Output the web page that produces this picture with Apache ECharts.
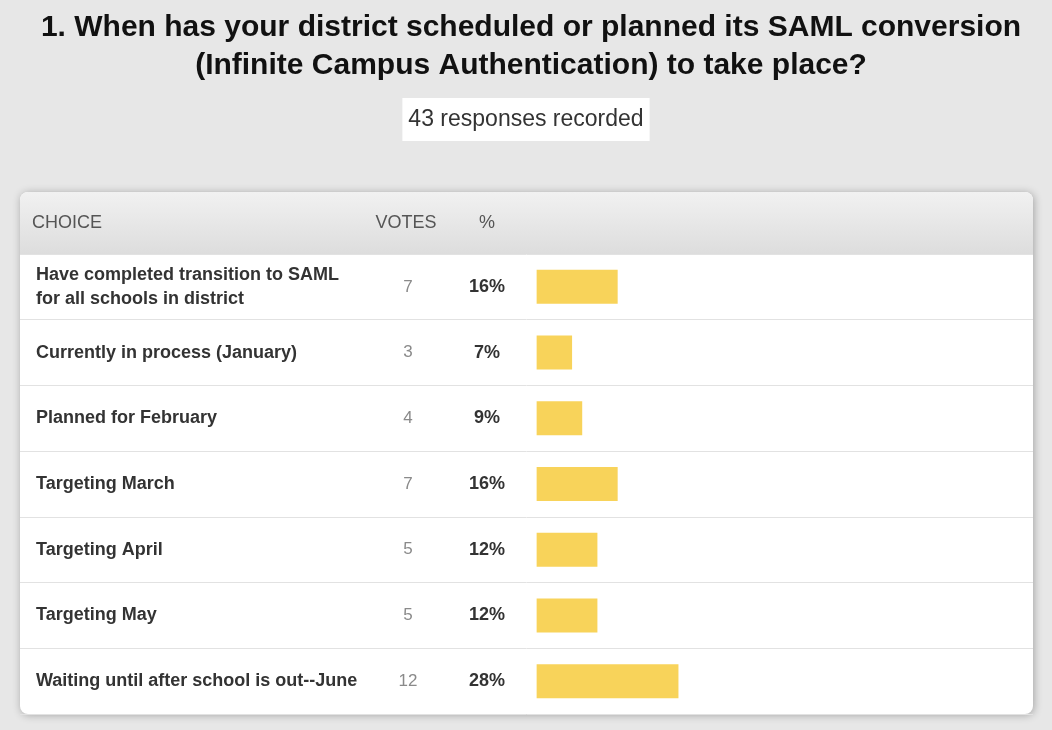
<!DOCTYPE html>
<html>
<head>
<meta charset="utf-8">
<script src="https://cdn.jsdelivr.net/npm/echarts@6/dist/echarts.min.js"></script>
<style>
  html, body { margin: 0; padding: 0; background: #e7e7e7; }
  #main { width: 1052px; height: 730px; }
</style>
</head>
<body>
<div id="main"></div>
<script>
// survey results
const choices = [
  'Have completed transition to SAML\nfor all schools in district',
  'Currently in process (January)',
  'Planned for February',
  'Targeting March',
  'Targeting April',
  'Targeting May',
  'Waiting until after school is out--June'
];
const votes = [7, 3, 4, 7, 5, 5, 12];
const percents = [16, 7, 9, 16, 12, 12, 28];
const totalResponses = 43;

const FONT = '"Liberation Sans", Arial, sans-serif';
const chart = echarts.init(document.getElementById('main'));

chart.setOption({
  backgroundColor: '#e7e7e7',
  animation: false,
  title: [
    {
      text: '1. When has your district scheduled or planned its SAML conversion\n(Infinite Campus Authentication) to take place?',
      left: 526,
      top: 4,
      textAlign: 'center',
      textStyle: { fontFamily: FONT, fontSize: 30, fontWeight: 'bold', color: '#111', lineHeight: 38, align: 'center' }
    },
    {
      text: totalResponses + ' responses recorded',
      left: 'center',
      top: 98,
      padding: [10, 6, 10, 6],
      backgroundColor: '#fff',
      textStyle: { fontFamily: FONT, fontSize: 23, fontWeight: 'normal', color: '#333', lineHeight: 23 }
    }
  ],
  graphic: [
    { // card
      type: 'rect', z: -10,
      shape: { x: 20, y: 192, width: 1013, height: 522, r: 8 },
      style: { fill: '#fff', shadowBlur: 9, shadowColor: 'rgba(0,0,0,0.3)', shadowOffsetX: 1, shadowOffsetY: 1 }
    },
    { // header
      type: 'rect', z: -9,
      shape: { x: 20, y: 192, width: 1013, height: 62, r: [8, 8, 0, 0] },
      style: {
        fill: new echarts.graphic.LinearGradient(0, 0, 0, 1, [
          { offset: 0, color: '#f1f1f1' },
          { offset: 1, color: '#dddddd' }
        ])
      }
    },
    { type: 'text', x: 32, y: 223, style: { text: 'CHOICE', fontFamily: FONT, fontSize: 18, fill: '#555', verticalAlign: 'middle' } },
    { type: 'text', x: 406, y: 223, style: { text: 'VOTES', fontFamily: FONT, fontSize: 18, fill: '#555', align: 'center', verticalAlign: 'middle' } },
    { type: 'text', x: 487, y: 223, style: { text: '%', fontFamily: FONT, fontSize: 18, fill: '#555', align: 'center', verticalAlign: 'middle' } }
  ],
  grid: { left: 20, right: 19, top: 254, bottom: 16, outerBoundsMode: 'none' },
  xAxis: {
    type: 'value', min: -102, max: 98,
    show: false
  },
  yAxis: [
    {
      type: 'category', data: choices, inverse: true,
      axisLine: { show: false }, axisTick: { show: false },
      splitLine: { show: true, lineStyle: { color: '#e2e2e2', width: 1 } },
      axisLabel: {
        margin: -16, align: 'left', fontFamily: FONT, fontSize: 18, fontWeight: 'bold',
        color: '#333', lineHeight: 24
      }
    },
    {
      type: 'category', data: votes.map(String), inverse: true, position: 'left',
      axisLine: { show: false }, axisTick: { show: false }, splitLine: { show: false },
      axisLabel: { margin: -388, align: 'center', fontFamily: FONT, fontSize: 17, color: '#8a8a8a' }
    },
    {
      type: 'category', data: percents.map(p => p + '%'), inverse: true, position: 'left',
      axisLine: { show: false }, axisTick: { show: false }, splitLine: { show: false },
      axisLabel: { margin: -467, align: 'center', fontFamily: FONT, fontSize: 18, fontWeight: 'bold', color: '#333' }
    }
  ],
  series: [{
    type: 'bar',
    yAxisIndex: 0,
    data: percents,
    barWidth: 34,
    itemStyle: { color: '#f8d35a' }
  }]
});
</script>
</body>
</html>
